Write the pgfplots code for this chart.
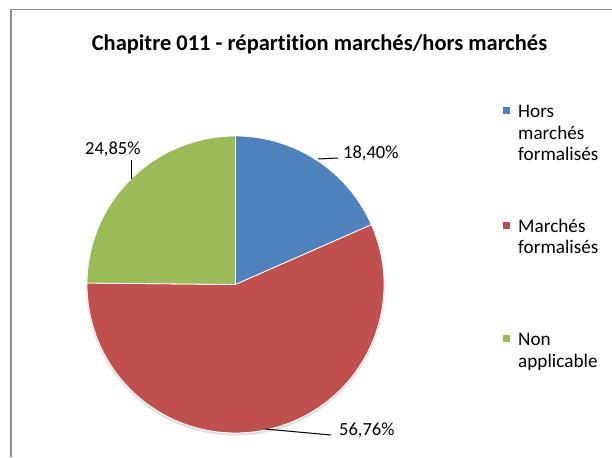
\documentclass[border=0pt]{standalone}
\usepackage{pgfplots}
\pgfplotsset{compat=1.18}
\usepackage{fontspec}
\setmainfont{Carlito}[Ligatures=NoCommon]
\definecolor{cBlue}{HTML}{4F81BD}
\definecolor{cRed}{HTML}{C0504D}
\definecolor{cGreen}{HTML}{9BBB59}
\definecolor{cFrame}{HTML}{8C8C8C}

% shares in percent
\def\vA{18.40}% Hors marches formalises
\def\vB{56.76}% Marches formalises
\def\vC{24.85}% Non applicable
\pgfmathsetmacro\aA{90-3.6*\vA}
\pgfmathsetmacro\aB{\aA-3.6*\vB}
\pgfmathsetmacro\aC{\aB-3.6*\vC}
\def\cx{235.5}\def\cy{172.5}\def\R{148.5}

\begin{document}
\begin{tikzpicture}
\begin{axis}[scale only axis,width=612pt,height=457pt,
    xmin=0,xmax=612,ymin=0,ymax=457,hide axis,clip=true]
\path (axis cs:0,0) -- (axis cs:612,457);
% frame
\draw[cFrame,line width=1.6pt] (axis cs:10.8,0) -- (axis cs:10.8,447.6) -- (axis cs:612,447.6);
% title
\node[anchor=base,inner sep=0pt,font=\fontsize{22.5}{26}\selectfont\bfseries] at (axis cs:319.5,406) {Chapitre 011 - répartition marchés/hors marchés};
% soft shadow
\fill[black!12] (axis cs:\cx,\cy-1.8) circle[radius=\R pt+0.8pt];
% slices
\fill[cBlue,draw=white,line width=0.8pt] (axis cs:\cx,\cy) -- ([shift={(90:\R pt)}]axis cs:\cx,\cy) arc[start angle=90,end angle=\aA,radius=\R pt] -- cycle;
\fill[cRed,draw=white,line width=0.8pt] (axis cs:\cx,\cy) -- ([shift={(\aA:\R pt)}]axis cs:\cx,\cy) arc[start angle=\aA,end angle=\aB,radius=\R pt] -- cycle;
\fill[cGreen,draw=white,line width=0.8pt] (axis cs:\cx,\cy) -- ([shift={(\aB:\R pt)}]axis cs:\cx,\cy) arc[start angle=\aB,end angle=\aC,radius=\R pt] -- cycle;
% data labels
\draw[black,line width=1pt] (axis cs:318,298) -- (axis cs:338,299);
\node[anchor=base west,font=\fontsize{18.5}{22}\selectfont,inner sep=0pt] at (axis cs:343,298) {18,40\%};
\draw[black,line width=1pt] (axis cs:131,297) -- (axis cs:131,278);
\node[anchor=base west,font=\fontsize{18.5}{22}\selectfont,inner sep=0pt] at (axis cs:85,302) {24,85\%};
\draw[black,line width=1pt] (axis cs:265,28) -- (axis cs:331,22);
\node[anchor=base west,font=\fontsize{18.5}{22}\selectfont,inner sep=0pt] at (axis cs:339,21) {56,76\%};
% legend
\tikzset{lg/.style={anchor=base west,inner sep=0pt,font=\fontsize{19.2}{22}\selectfont}}
\fill[cBlue] (axis cs:503,343) rectangle (axis cs:510,350);
\node[lg] at (axis cs:518,339) {Hors};
\node[lg] at (axis cs:518,317) {marchés};
\node[lg] at (axis cs:518,296) {formalisés};
\fill[cRed] (axis cs:503,228) rectangle (axis cs:510,235);
\node[lg] at (axis cs:518,224) {Marchés};
\node[lg] at (axis cs:518,203) {formalisés};
\fill[cGreen] (axis cs:503,115) rectangle (axis cs:510,122);
\node[lg] at (axis cs:518,111) {Non};
\node[lg] at (axis cs:518,89.5) {applicable};
\end{axis}
\end{tikzpicture}
\end{document}
